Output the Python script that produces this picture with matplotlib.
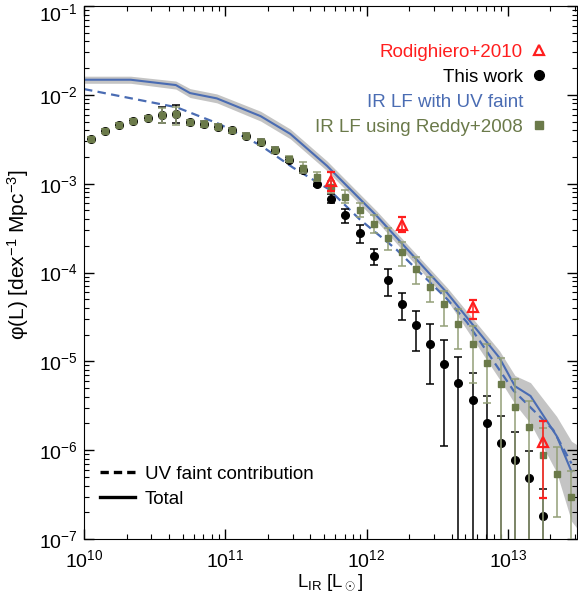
import numpy as np
import matplotlib
matplotlib.use("Agg")
import matplotlib.pyplot as plt
import matplotlib.transforms as mtransforms
from matplotlib.lines import Line2D

plt.rcParams['font.family'] = ['Liberation Sans', 'DejaVu Sans']
plt.rcParams['mathtext.fontset'] = 'custom'
plt.rcParams['mathtext.rm'] = 'Liberation Sans'
plt.rcParams['mathtext.it'] = 'Liberation Sans:italic'
plt.rcParams['mathtext.bf'] = 'Liberation Sans:bold'

# luminosity bins, log10(L_IR / Lsun)
bins = [10.05, 10.15, 10.25, 10.35, 10.45, 10.55, 10.65, 10.75, 10.85, 10.95,
        11.05, 11.15, 11.25, 11.35, 11.45, 11.55, 11.65, 11.75, 11.85, 11.95,
        12.05, 12.15, 12.25, 12.35, 12.45, 12.55, 12.65, 12.75, 12.85, 12.95,
        13.05, 13.15, 13.25, 13.35, 13.45]

# this work (log phi, errors in dex; 9 = runs off the bottom)
work_phi = [-2.50, -2.41, -2.34, -2.29, -2.26, -2.23, -2.22, -2.31, -2.33, -2.36,
            -2.40, -2.46, -2.53, -2.62, -2.73, -2.85, -3.00, -3.17, -3.35, -3.55,
            -3.81, -4.08, -4.35, -4.59, -4.80, -5.03, -5.24, -5.43, -5.69, -5.92,
            -6.11, -6.31, -6.74]
work_up = [0.02, 0.02, 0.02, 0.02, 0.02, 0.09, 0.10, 0.03, 0.03, 0.03,
           0.03, 0.03, 0.03, 0.03, 0.03, 0.03, 0.03, 0.05, 0.07, 0.08,
           0.08, 0.12, 0.12, 0.16, 0.22, 0.27, 0.29, 0.30, 0.30, 0.30,
           0.31, 0.30, 0.30]
work_dn = [0.02, 0.02, 0.02, 0.02, 0.02, 0.09, 0.10, 0.03, 0.03, 0.03,
           0.03, 0.03, 0.03, 0.03, 0.03, 0.03, 0.03, 0.05, 0.09, 0.12,
           0.11, 0.18, 0.19, 0.29, 0.45, 0.92, 9, 9, 9, 9,
           9, 9, 9]

# IR LF using Reddy+2008
reddy_phi = [-2.50, -2.41, -2.34, -2.29, -2.26, -2.23, -2.22, -2.31, -2.33, -2.36,
             -2.40, -2.46, -2.53, -2.62, -2.72, -2.82, -2.92, -3.04, -3.15, -3.30,
             -3.45, -3.61, -3.77, -3.96, -4.16, -4.35, -4.58, -4.81, -5.02, -5.26,
             -5.51, -5.74, -6.05, -6.27, -6.53]
reddy_up = [0.02, 0.02, 0.02, 0.02, 0.02, 0.08, 0.08, 0.03, 0.03, 0.03,
            0.03, 0.03, 0.03, 0.03, 0.03, 0.06, 0.05, 0.07, 0.08, 0.08,
            0.10, 0.11, 0.11, 0.13, 0.11, 0.14, 0.17, 0.21, 0.21, 0.30,
            0.31, 0.29, 0.30, 0.31, 0.29]
reddy_dn = [0.02, 0.02, 0.02, 0.02, 0.02, 0.09, 0.12, 0.03, 0.03, 0.03,
            0.03, 0.03, 0.03, 0.03, 0.03, 0.06, 0.05, 0.07, 0.07, 0.08,
            0.11, 0.14, 0.16, 0.17, 0.17, 0.25, 0.28, 0.43, 0.45, 9,
            9, 9, 9, 0.48, 9]

# Rodighiero+2010
rod_L = [11.75, 12.25, 12.75, 13.25]
rod_phi = [-2.97, -3.47, -4.39, -5.91]
rod_up = [0.10, 0.09, 0.08, 0.24]
rod_dn = [0.11, 0.07, 0.13, 0.63]

# IR LF with UV faint (total) and its uncertainty band
tot_L = [10.0, 10.33, 10.65, 10.75, 10.94, 11.25, 11.46, 11.72, 12.07, 12.57,
         12.94, 13.05, 13.16, 13.345, 13.45]
tot_phi = [-1.83, -1.83, -1.89, -1.98, -2.04, -2.24, -2.44, -2.80, -3.36, -4.23,
           -4.96, -5.28, -5.39, -5.84, -6.24]
band_L = [10.0, 10.33, 10.65, 10.75, 10.94, 11.25, 11.46, 11.72, 12.07, 12.57,
          12.94, 13.05, 13.16, 13.345, 13.45, 13.5]
band_hi = [-1.79, -1.79, -1.845, -1.93, -1.99, -2.185, -2.385, -2.745, -3.305, -4.17,
           -4.88, -5.16, -5.24, -5.62, -5.90, -5.95]
band_lo = [-1.87, -1.87, -1.935, -2.03, -2.09, -2.295, -2.495, -2.855, -3.42, -4.31,
           -5.20, -5.48, -5.70, -6.25, -6.80, -6.90]

# UV faint contribution
uvf_L = [10.0, 10.655, 10.96, 11.25, 11.48, 11.73, 11.95, 12.21, 12.57, 12.71,
         13.04, 13.32, 13.45]
uvf_phi = [-1.935, -2.14, -2.33, -2.57, -2.82, -3.06, -3.40, -3.74, -4.30, -4.56,
           -5.33, -5.77, -6.15]

blue = '#4a6cb3'
olive = '#6b7a4a'
olive_err = '#939f78'
red = '#ff1e1e'


def lin(a):
    return 10.0 ** np.asarray(a)


def errs(phi, dn, up):
    phi = np.asarray(phi)
    p = lin(phi)
    return [p - lin(phi - np.asarray(dn)), lin(phi + np.asarray(up)) - p]


fig = plt.figure(figsize=(5.78, 5.98), dpi=100)
ax = fig.add_axes([84 / 578, 1 - 539 / 598, 493 / 578, 533 / 598])

ax.fill_between(lin(band_L), lin(band_lo), lin(band_hi), color='#c4c4c4', lw=0, zorder=1)
ax.plot(lin(tot_L), lin(tot_phi), color=blue, lw=1.5, zorder=2)
ax.plot(lin(uvf_L), lin(uvf_phi), color=blue, lw=1.6, dashes=(3.8, 2.4), zorder=2)

nw = len(work_phi)
ax.errorbar(lin(bins[:nw]), lin(work_phi), yerr=errs(work_phi, work_dn, work_up),
            fmt='o', color='black', ms=5.5, elinewidth=1.1, capsize=3, capthick=1.1, zorder=3)
ax.errorbar(lin(bins), lin(reddy_phi), yerr=errs(reddy_phi, reddy_dn, reddy_up),
            fmt='s', color=olive, ecolor=olive_err, ms=4.5, elinewidth=1.1, capsize=3,
            capthick=1.1, zorder=4)
ax.errorbar(lin(rod_L), lin(rod_phi), yerr=errs(rod_phi, rod_dn, rod_up),
            fmt='^', mfc='none', mec=red, mew=1.6, ms=7.5, ecolor=red,
            elinewidth=1.1, capsize=3, capthick=1.1, zorder=5)

ax.set_xscale('log')
ax.set_yscale('log')
ax.set_xlim(1e10, 10 ** 13.489)
ax.set_ylim(1e-7, 1e-1)

ax.tick_params(which='both', direction='in', top=True, right=True, labelsize=14)
ax.tick_params(which='major', length=7.2, width=1)
ax.tick_params(which='minor', length=3.6, width=0.8)
ax.tick_params(axis='x', which='major', pad=7.5)
ax.tick_params(axis='y', which='major', pad=4.5)
ax.set_xlabel(r'L$_{\rm IR}$ [L$_\odot$]', fontsize=13.5, labelpad=1)
ax.set_ylabel(r'φ(L) [dex$^{-1}$ Mpc$^{-3}$]', fontsize=15)
ax.yaxis.set_label_coords(-0.108, 0.533)

# legend for the data sets (text right aligned, marker on the right)
h_rod = Line2D([], [], ls='none', marker='^', mfc='none', mec=red, mew=1.6, ms=7.5)
h_work = Line2D([], [], ls='none', marker='o', color='black', ms=7)
h_uv = Line2D([], [], ls='none')
h_red = Line2D([], [], ls='none', marker='s', color=olive, ms=5.5)
leg1 = ax.legend([h_rod, h_work, h_uv, h_red],
                 ['Rodighiero+2010', 'This work', 'IR LF with UV faint', 'IR LF using Reddy+2008'],
                 loc='upper right', bbox_to_anchor=(0.942, 0.929), markerfirst=False,
                 frameon=False, fontsize=13.5, handlelength=1.0, handletextpad=0.35,
                 labelspacing=0.42, borderpad=0, borderaxespad=0,
                 labelcolor=[red, 'black', blue, olive])
ax.add_artist(leg1)

h_dash = Line2D([], [], color='black', lw=2.4, dashes=(2.5, 1.5))
h_solid = Line2D([], [], color='black', lw=2.4)
ax.legend([h_dash, h_solid], ['UV faint contribution', 'Total'], loc='lower left',
          bbox_to_anchor=(0.0325, 0.059), frameon=False, fontsize=13.5,
          handlelength=1.87, handletextpad=0.53, labelspacing=0.42,
          borderpad=0, borderaxespad=0)

# nudge the top y label down so it stays inside the figure, as in the original
fig.canvas.draw()
for t in ax.yaxis.get_major_ticks():
    if abs(t.get_loc() - 1e-1) < 1e-9:
        t.label1.set_transform(t.label1.get_transform()
                               + mtransforms.ScaledTranslation(0, -0.06, fig.dpi_scale_trans))

fig.savefig('out.png', dpi=100)
